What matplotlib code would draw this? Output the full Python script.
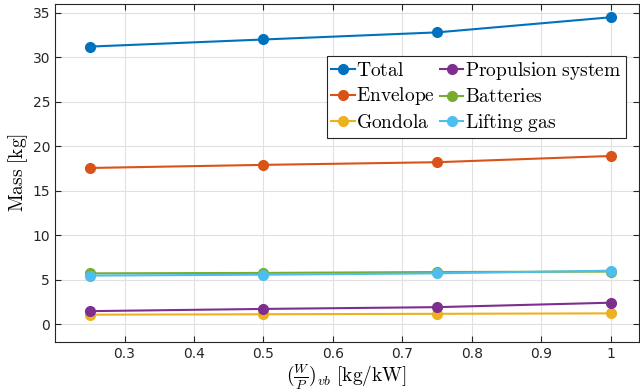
import matplotlib
matplotlib.use("Agg")
import matplotlib.pyplot as plt

plt.rcParams['mathtext.fontset'] = 'cm'

x = [0.25, 0.5, 0.75, 1.0]
total = [31.2, 32.0, 32.8, 34.5]
envelope = [17.55, 17.9, 18.2, 18.9]
gondola = [1.05, 1.1, 1.15, 1.2]
propulsion = [1.45, 1.7, 1.9, 2.4]
batteries = [5.7, 5.75, 5.85, 5.9]
lifting_gas = [5.45, 5.55, 5.7, 6.0]

series = [
    ("Total", total, "#0072BD"),
    ("Envelope", envelope, "#D95319"),
    ("Gondola", gondola, "#EDB120"),
    ("Propulsion system", propulsion, "#7E2F8E"),
    ("Batteries", batteries, "#77AC30"),
    ("Lifting gas", lifting_gas, "#4DBEEE"),
]

fig = plt.figure(figsize=(6.4, 3.92), dpi=100)
ax = fig.add_axes([0.086, 0.128, 0.912, 0.862])
for name, vals, c in series:
    label = r"$\mathrm{" + name.replace(" ", r"\ ") + "}$"
    ax.plot(x, vals, '-o', color=c, lw=1.5, ms=7, label=label)

ax.set_xlim(0.2, 1.04)
ax.set_ylim(-2, 36)
ax.set_xticks([0.3, 0.4, 0.5, 0.6, 0.7, 0.8, 0.9, 1.0])
ax.set_xticklabels(["0.3", "0.4", "0.5", "0.6", "0.7", "0.8", "0.9", "1"])
ax.set_yticks([0, 5, 10, 15, 20, 25, 30, 35])
ax.grid(True, color='#e0e0e0', lw=0.8)
ax.set_axisbelow(True)
ax.tick_params(direction='in', top=True, right=True, labelsize=10, colors='#262626', length=4)
for s in ax.spines.values():
    s.set_color('#262626')
    s.set_linewidth(0.8)
ax.set_ylabel(r"$\mathrm{Mass\ [kg]}$", fontsize=14, labelpad=2)
ax.set_xlabel(r"$(\frac{W}{P})_{vb}\ \mathrm{[kg/kW]}$", fontsize=14, labelpad=1)

leg = ax.legend(ncol=2, loc='upper left', bbox_to_anchor=(0.4665, 0.845), fontsize=14,
                frameon=True, fancybox=False, edgecolor='#262626', framealpha=1,
                handlelength=1.2, handletextpad=0.1, columnspacing=0.25,
                labelspacing=0.27, borderpad=0.2, borderaxespad=0)
leg.get_frame().set_linewidth(0.8)

fig.savefig("out.png", dpi=100)
